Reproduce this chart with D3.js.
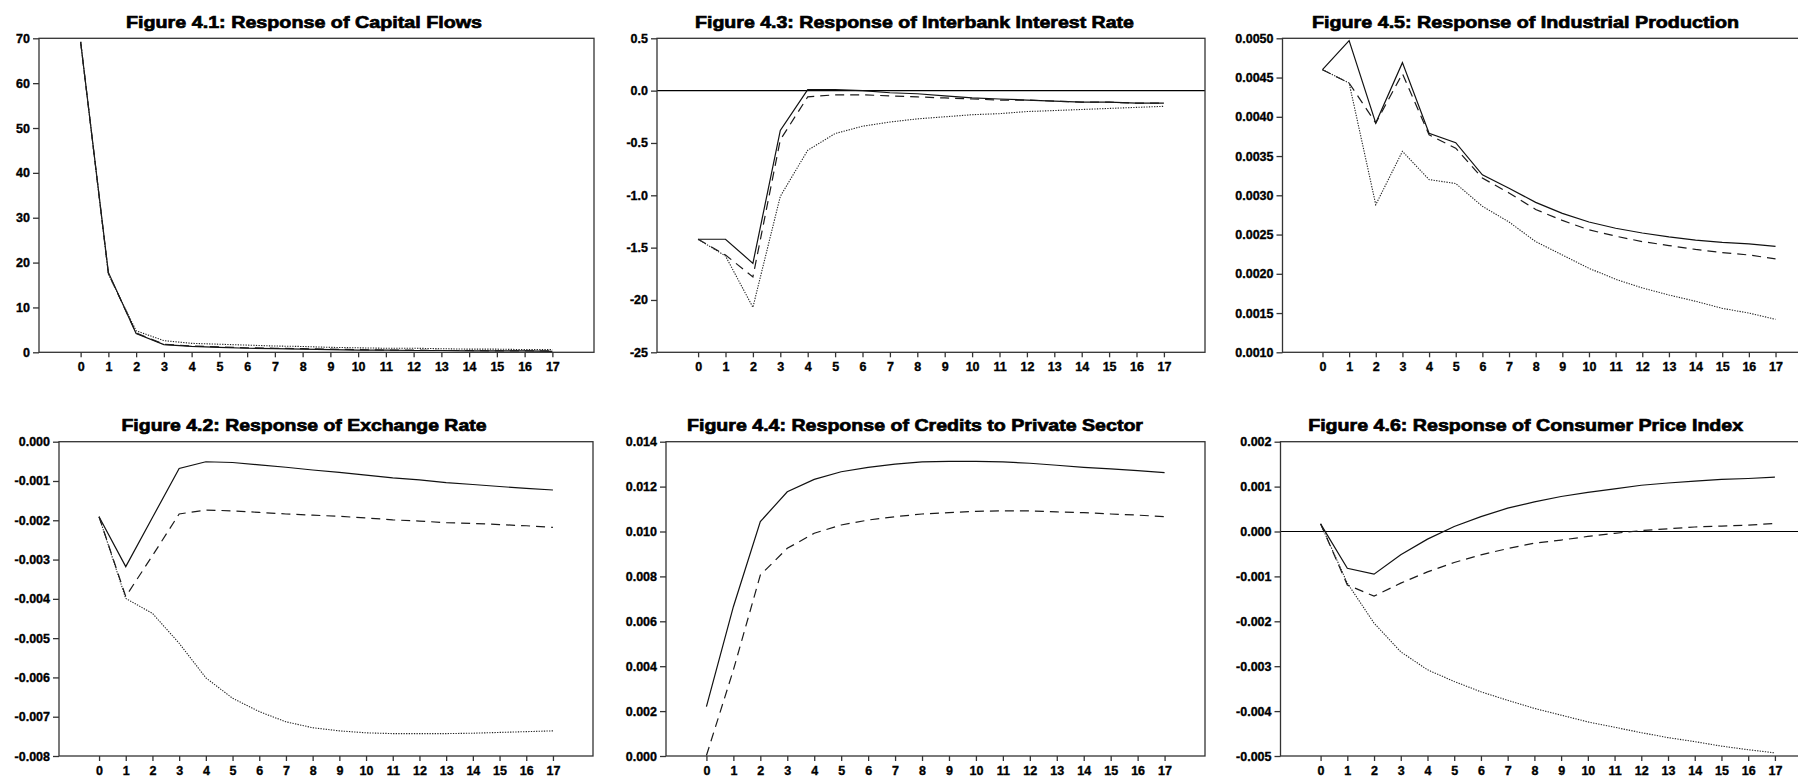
<!DOCTYPE html>
<html>
<head>
<meta charset="utf-8">
<script src="https://cdn.jsdelivr.net/npm/d3@7"></script>
<style>
  html, body { margin: 0; padding: 0; background: #fff; }
  svg { display: block; }
  text { font-family: "Liberation Sans", Arial, sans-serif; font-weight: bold; fill: #000; }
</style>
</head>
<body>
<svg id="chart" width="1798" height="779"></svg>
<script>
// ---------- DATA ----------
const periods = [0, 1, 2, 3, 4, 5, 6, 7, 8, 9, 10, 11, 12, 13, 14, 15, 16, 17];

// Figure 4.1 Capital Flows
const capitalSolid  = [69.2, 17.8, 4.2, 1.7, 1.3, 1.1, 0.9, 0.8, 0.7, 0.6, 0.5, 0.5, 0.4, 0.4, 0.3, 0.3, 0.3, 0.2];
const capitalDashed = [69.2, 17.6, 4.3, 1.8, 1.4, 1.2, 1.0, 0.9, 0.8, 0.7, 0.6, 0.5, 0.5, 0.4, 0.4, 0.3, 0.3, 0.3];
const capitalDotted = [69.2, 17.4, 4.8, 2.6, 2.0, 1.8, 1.6, 1.4, 1.3, 1.1, 1.0, 0.9, 0.9, 0.8, 0.7, 0.7, 0.6, 0.6];
const capitalTicks = [0, 10, 20, 30, 40, 50, 60, 70];
const capitalTickLabels = ["0", "10", "20", "30", "40", "50", "60", "70"];

// Figure 4.3 Interbank Interest Rate
const rateSolid  = [-1.42, -1.42, -1.65, -0.38, 0.01, 0.01, 0.00, -0.02, -0.03, -0.05, -0.07, -0.08, -0.09, -0.10, -0.11, -0.11, -0.12, -0.12];
const rateDashed = [-1.42, -1.57, -1.78, -0.47, -0.06, -0.04, -0.04, -0.05, -0.06, -0.07, -0.08, -0.09, -0.09, -0.10, -0.11, -0.11, -0.12, -0.12];
const rateDotted = [-1.42, -1.58, -2.07, -1.01, -0.57, -0.41, -0.34, -0.30, -0.27, -0.25, -0.23, -0.22, -0.20, -0.19, -0.18, -0.17, -0.16, -0.15];
const rateTicks = [0.5, 0.0, -0.5, -1.0, -1.5, -2.0, -2.5];
const rateTickLabels = ["0.5", "0.0", "-0.5", "-1.0", "-1.5", "-20", "-25"];

// Figure 4.5 Industrial Production
const indSolid  = [0.00460, 0.00497, 0.00392, 0.00469, 0.00379, 0.00367, 0.00326, 0.00309, 0.00291, 0.00277, 0.00266, 0.00258, 0.00252, 0.00247, 0.00243, 0.00240, 0.00238, 0.00235];
const indDashed = [0.00460, 0.00443, 0.00392, 0.00455, 0.00377, 0.00360, 0.00322, 0.00303, 0.00282, 0.00268, 0.00256, 0.00248, 0.00241, 0.00236, 0.00231, 0.00227, 0.00224, 0.00219];
const indDotted = [0.00460, 0.00443, 0.00288, 0.00356, 0.00320, 0.00315, 0.00286, 0.00266, 0.00241, 0.00224, 0.00207, 0.00193, 0.00182, 0.00173, 0.00165, 0.00156, 0.00150, 0.00142];
const indTicks = [0.0010, 0.0015, 0.0020, 0.0025, 0.0030, 0.0035, 0.0040, 0.0045, 0.0050];
const indTickLabels = ["0.0010", "0.0015", "0.0020", "0.0025", "0.0030", "0.0035", "0.0040", "0.0045", "0.0050"];

// Figure 4.2 Exchange Rate
const fxSolid  = [-0.00191, -0.00318, -0.00193, -0.00068, -0.00051, -0.00053, -0.00059, -0.00065, -0.00072, -0.00078, -0.00085, -0.00092, -0.00097, -0.00104, -0.00109, -0.00114, -0.00119, -0.00123];
const fxDashed = [-0.00191, -0.00394, -0.00290, -0.00184, -0.00174, -0.00176, -0.00180, -0.00184, -0.00187, -0.00190, -0.00194, -0.00199, -0.00202, -0.00206, -0.00208, -0.00211, -0.00214, -0.00218];
const fxDotted = [-0.00191, -0.00399, -0.00437, -0.00513, -0.00601, -0.00653, -0.00687, -0.00713, -0.00728, -0.00736, -0.00741, -0.00743, -0.00743, -0.00743, -0.00742, -0.00740, -0.00738, -0.00736];
const fxTicks = [0.000, -0.001, -0.002, -0.003, -0.004, -0.005, -0.006, -0.007, -0.008];
const fxTickLabels = ["0.000", "-0.001", "-0.002", "-0.003", "-0.004", "-0.005", "-0.006", "-0.007", "-0.008"];

// Figure 4.4 Credits to Private Sector
const creditSolid  = [0.00220, 0.00665, 0.01044, 0.01177, 0.01232, 0.01266, 0.01286, 0.01300, 0.01310, 0.01312, 0.01312, 0.01310, 0.01304, 0.01295, 0.01286, 0.01279, 0.01271, 0.01262];
const creditDashed = [0.00002, 0.00383, 0.00806, 0.00925, 0.00992, 0.01029, 0.01051, 0.01066, 0.01078, 0.01084, 0.01090, 0.01092, 0.01092, 0.01087, 0.01084, 0.01078, 0.01073, 0.01066];
const creditTicks = [0.000, 0.002, 0.004, 0.006, 0.008, 0.010, 0.012, 0.014];
const creditTickLabels = ["0.000", "0.002", "0.004", "0.006", "0.008", "0.010", "0.012", "0.014"];

// Figure 4.6 Consumer Price Index
const cpiSolid  = [0.00017, -0.00082, -0.00095, -0.00052, -0.00017, 0.00011, 0.00033, 0.00052, 0.00066, 0.00078, 0.00087, 0.00095, 0.00103, 0.00108, 0.00112, 0.00116, 0.00118, 0.00121];
const cpiDashed = [0.00017, -0.00119, -0.00144, -0.00115, -0.00090, -0.00069, -0.00052, -0.00038, -0.00026, -0.00019, -0.00011, -0.00004, 0.00002, 0.00006, 0.00010, 0.00012, 0.00014, 0.00018];
const cpiDotted = [0.00017, -0.00115, -0.00204, -0.00268, -0.00308, -0.00334, -0.00357, -0.00376, -0.00394, -0.00409, -0.00424, -0.00436, -0.00448, -0.00459, -0.00468, -0.00478, -0.00486, -0.00493];
const cpiTicks = [0.002, 0.001, 0.000, -0.001, -0.002, -0.003, -0.004, -0.005];
const cpiTickLabels = ["0.002", "0.001", "0.000", "-0.001", "-0.002", "-0.003", "-0.004", "-0.005"];

const titles = [
  "Figure 4.1: Response of Capital Flows",
  "Figure 4.3: Response of Interbank Interest Rate",
  "Figure 4.5: Response of Industrial Production",
  "Figure 4.2: Response of Exchange Rate",
  "Figure 4.4: Response of Credits to Private Sector",
  "Figure 4.6: Response of Consumer Price Index"
];

// ---------- LAYOUT ----------
const panels = [
  { title: titles[0], series: [capitalSolid, capitalDashed, capitalDotted], ticks: capitalTicks, labels: capitalTickLabels,
    domain: [0, 70], l: 39, r: 594, t: 38.3, b: 352.3, tx: 304, tw: 356, ty: 28.3, zero: false },
  { title: titles[1], series: [rateSolid, rateDashed, rateDotted], ticks: rateTicks, labels: rateTickLabels,
    domain: [-2.5, 0.5], l: 657, r: 1205, t: 38.3, b: 352.3, tx: 914.5, tw: 439, ty: 28.3, zero: true },
  { title: titles[2], series: [indSolid, indDashed, indDotted], ticks: indTicks, labels: indTickLabels,
    domain: [0.0010, 0.0050], l: 1282.5, r: 1815.5, t: 38.3, b: 352.3, tx: 1525.5, tw: 427, ty: 28.3, zero: false },
  { title: titles[3], series: [fxSolid, fxDashed, fxDotted], ticks: fxTicks, labels: fxTickLabels,
    domain: [-0.008, 0.000], l: 59, r: 593, t: 441.7, b: 756, tx: 304, tw: 365, ty: 431, zero: false },
  { title: titles[4], series: [creditSolid, creditDashed, null], ticks: creditTicks, labels: creditTickLabels,
    domain: [0.000, 0.014], l: 666, r: 1205, t: 441.7, b: 756, tx: 915, tw: 456, ty: 431, zero: false },
  { title: titles[5], series: [cpiSolid, cpiDashed, cpiDotted], ticks: cpiTicks, labels: cpiTickLabels,
    domain: [-0.005, 0.002], l: 1280.5, r: 1815, t: 441.7, b: 756, tx: 1525.7, tw: 435, ty: 431, zero: true }
];

const styles = [
  { dash: null, width: 1.2, color: "#111" },
  { dash: "9,6", width: 1.2, color: "#1a1a1a" },
  { dash: "1.3,1.3", width: 1.1, color: "#222" }
];

const svg = d3.select("#chart");

panels.forEach(p => {
  const g = svg.append("g");
  const x = d3.scaleLinear().domain([-1.5, 18.5]).range([p.l, p.r]);
  const y = d3.scaleLinear().domain(p.domain).range([p.b, p.t]);

  // title
  g.append("text")
    .attr("x", p.tx).attr("y", p.ty)
    .attr("text-anchor", "middle")
    .attr("font-size", 17)
    .attr("stroke", "#000").attr("stroke-width", 0.7)
    .attr("textLength", p.tw)
    .attr("lengthAdjust", "spacingAndGlyphs")
    .text(p.title);

  // zero line
  if (p.zero) {
    g.append("line")
      .attr("x1", p.l).attr("x2", p.r)
      .attr("y1", y(0)).attr("y2", y(0))
      .attr("stroke", "#000").attr("stroke-width", 1.1);
  }

  // series
  const line = d3.line().x((d, i) => x(periods[i])).y(d => y(d));
  p.series.forEach((s, k) => {
    if (!s) return;
    g.append("path")
      .datum(s)
      .attr("d", line)
      .attr("fill", "none")
      .attr("stroke", styles[k].color)
      .attr("stroke-width", styles[k].width)
      .attr("stroke-dasharray", styles[k].dash);
  });

  // frame
  g.append("rect")
    .attr("x", p.l).attr("y", p.t)
    .attr("width", p.r - p.l).attr("height", p.b - p.t)
    .attr("fill", "none").attr("stroke", "#333").attr("stroke-width", 1.3);

  // y axis
  const ya = g.append("g").attr("transform", `translate(${p.l},0)`)
    .call(d3.axisLeft(y).tickValues(p.ticks).tickFormat((d, i) => p.labels[i]).tickSize(6).tickPadding(3));
  ya.select(".domain").remove();
  ya.selectAll(".tick line").attr("stroke", "#333").attr("stroke-width", 1.3);
  ya.selectAll(".tick text").attr("font-size", 12.5).attr("font-family", "Liberation Sans, Arial, sans-serif")
    .attr("font-weight", "bold").attr("fill", "#000").attr("stroke", "#000").attr("stroke-width", 0.35);

  // x axis
  const xa = g.append("g").attr("transform", `translate(0,${p.b})`)
    .call(d3.axisBottom(x).tickValues(periods).tickFormat(d3.format("d")).tickSize(5).tickPadding(5));
  xa.select(".domain").remove();
  xa.selectAll(".tick line").attr("stroke", "#333").attr("stroke-width", 1.3);
  xa.selectAll(".tick text").attr("font-size", 12.5).attr("font-family", "Liberation Sans, Arial, sans-serif")
    .attr("font-weight", "bold").attr("fill", "#000").attr("stroke", "#000").attr("stroke-width", 0.35);
});
</script>
</body>
</html>
